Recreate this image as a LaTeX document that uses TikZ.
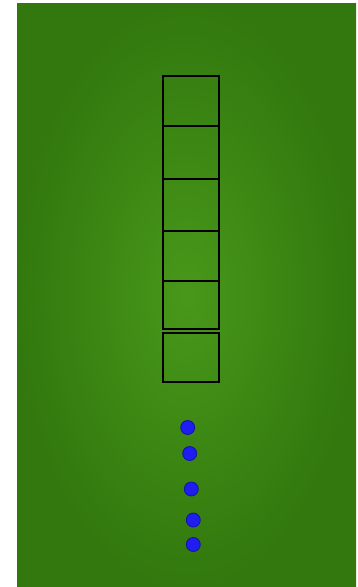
\documentclass[tikz,border=0pt]{standalone}
\usetikzlibrary{positioning}
\definecolor{gout}{RGB}{50,120,14}
\definecolor{gin}{RGB}{72,152,26}
\definecolor{dotblue}{RGB}{30,30,240}
\tikzset{
  cell/.style={draw=black, line width=1.8pt, inner sep=0pt, anchor=north west, minimum width=56pt},
  dot/.style={circle, fill=dotblue, draw=dotblue!65!black, line width=0.8pt, inner sep=0pt, minimum size=14pt}
}
\begin{document}
\begin{tikzpicture}[x=1pt,y=-1pt]
\useasboundingbox (0,0) rectangle (358,587);
\fill[white] (0,0) rectangle (358,587);
\shade[inner color=gin, outer color=gout] (17,3) rectangle (356,587);
\node[cell, minimum height=50pt] (c1) at (162.3,75) {};
\node[cell, minimum height=53pt] (c2) at (162.3,125) {};
\node[cell, minimum height=52pt] (c3) at (162.3,178) {};
\node[cell, minimum height=50pt] (c4) at (162.3,230) {};
\node[cell, minimum height=48pt] (c5) at (162.3,280) {};
\node[cell, minimum height=49pt] (c6) at (162.3,332) {};
\node[dot] (d1) at (187.7,427.5) {};
\node[dot] (d2) at (189.7,453.5) {};
\node[dot] (d3) at (191.3,489) {};
\node[dot] (d4) at (193.3,520) {};
\node[dot] (d5) at (193.3,544.5) {};
\end{tikzpicture}
\end{document}
